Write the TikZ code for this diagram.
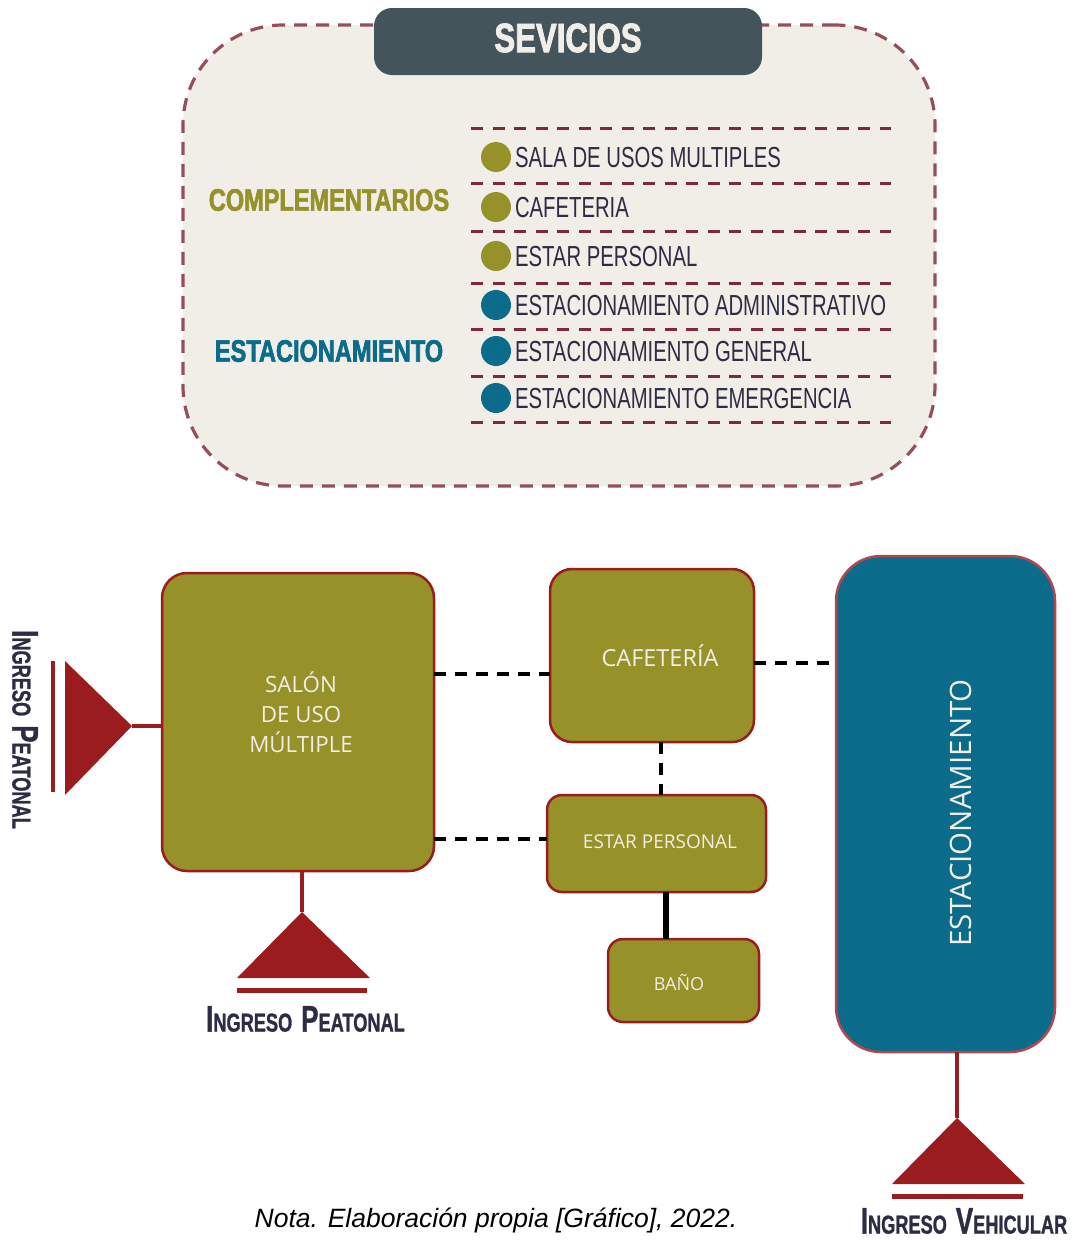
\documentclass[tikz,border=0pt]{standalone}
\usepackage{fontspec}
\setmainfont{Liberation Sans}
\newfontfamily\condfont[FakeStretch=0.7]{Liberation Sans}
\newfontfamily\headfont[FakeStretch=0.76,FakeBold=2]{Liberation Sans Bold}
\newfontfamily\entryfont[FakeStretch=0.7,FakeBold=1]{Liberation Sans Bold}
\newfontfamily\bodyfont{Open Sans}
\newfontfamily\notafont{Liberation Sans}
\definecolor{olive}{HTML}{969128}
\definecolor{tealb}{HTML}{0A6B8A}
\definecolor{cream}{HTML}{F1EEE7}
\definecolor{slateh}{HTML}{43545B}
\definecolor{redd}{HTML}{9B1C1F}
\definecolor{rosee}{HTML}{B0484F}
\definecolor{dashb}{HTML}{94505A}
\definecolor{dashl}{HTML}{7E2A36}
\definecolor{inkk}{HTML}{2C2D45}
\newcommand{\sz}[1]{\fontsize{#1}{#1}\selectfont}
\newcommand{\capsA}[2]{{\sz{37}#1}{\sz{26}#2}}
\tikzset{
 x=1pt,y=-1pt,
 base/.style={inner sep=0pt,outer sep=0pt},
 room/.style={base,draw=redd,line width=2.5pt,fill=olive,text=cream,font=\bodyfont,align=center},
 itemline/.style={draw=dashl,line width=3pt,dash pattern=on 12pt off 9.5pt},
 itemtext/.style={base,anchor=west,text=inkk,font=\condfont\sz{29}},
 dotc/.style={base,circle,minimum size=30pt},
 dashlink/.style={draw=black,line width=4pt,dash pattern=on 12pt off 9pt},
 redlink/.style={draw=redd,line width=4pt},
 tri/.style={fill=redd},
 entry/.style={base,text=inkk,font=\entryfont},
 group/.style={base,font=\headfont\sz{31}},
}
\begin{document}
\begin{tikzpicture}
\useasboundingbox (0,0) rectangle (1079,1240);
% panel
\node[base,minimum width=752pt,minimum height=461pt,rounded corners=100pt,fill=cream,draw=dashb,line width=3.2pt,dash pattern=on 13pt off 9pt] (panel) at (559,255.5) {};
\node[base,minimum width=388pt,minimum height=67pt,rounded corners=18pt,fill=slateh] (head) at (568,41.5) {};
\node[base,text=cream,font=\headfont\sz{41}] (headtxt) at (568,38) {SEVICIOS};
\node[group,text=olive] (comp) at (329,200) {COMPLEMENTARIOS};
\node[group,text=tealb] (estgroup) at (329,351) {ESTACIONAMIENTO};
% rows
\foreach \n/\y in {a/128,b/183,c/231,d/283,e/329,f/376,g/422}{
 \coordinate (l\n) at (471,\y);
 \coordinate (r\n) at (891,\y);
 \draw[itemline] (l\n) -- (r\n);
}
\foreach \n/\y/\c/\t in {
 1/157/olive/SALA DE USOS MULTIPLES,
 2/207/olive/CAFETERIA,
 3/256/olive/ESTAR PERSONAL,
 4/305/tealb/ESTACIONAMIENTO ADMINISTRATIVO,
 5/351/tealb/ESTACIONAMIENTO GENERAL,
 6/398/tealb/ESTACIONAMIENTO EMERGENCIA}{
 \node[dotc,fill=\c] (dot\n) at (496,\y) {};
 \node[itemtext] (item\n) at (515,\y+1) {\t};
}
% rooms
\node[room,minimum width=272pt,minimum height=298pt,rounded corners=25pt] (salon) at (298,722) {};
\node[base,text=cream,font=\bodyfont\sz{22.3},align=center] (salontxt) at (301,712) {SALÓN\\[7.7pt]DE USO\\[7.7pt]MÚLTIPLE};
\node[room,minimum width=204pt,minimum height=173pt,rounded corners=22pt] (cafe) at (652,655.5) {};
\node[base,text=cream,font=\bodyfont\sz{23.5}] (cafetxt) at (660,656) {CAFETERÍA};
\node[room,minimum width=219pt,minimum height=97pt,rounded corners=15pt] (estar) at (656.5,843.5) {};
\node[base,text=cream,font=\bodyfont\sz{19}] (estartxt) at (660,842) {ESTAR PERSONAL};
\node[room,minimum width=151pt,minimum height=83pt,rounded corners=15pt] (bano) at (683.5,980.5) {};
\node[base,text=cream,font=\bodyfont\sz{18}] (banotxt) at (679,982) {BAÑO};
\node[room,draw=rosee,fill=tealb,minimum width=219pt,minimum height=496pt,rounded corners=45pt] (park) at (945.5,804) {};
\node[base,text=cream,font=\bodyfont\sz{29.5},rotate=90] (parktxt) at (961,813) {ESTACIONAMIENTO};
% connectors
\coordinate (ya) at (0,674);
\coordinate (yb) at (0,663);
\coordinate (yc) at (0,839);
\coordinate (xa) at (661,0);
\coordinate (xb) at (666,0);
\draw[dashlink] (salon.east |- ya) -- (cafe.west |- ya);
\draw[dashlink] (cafe.east |- yb) -- (park.west |- yb);
\draw[dashlink] (salon.east |- yc) -- (estar.west |- yc);
\draw[dashlink] (cafe.south -| xa) -- (estar.north -| xa);
\draw[draw=black,line width=6pt] (estar.south -| xb) -- (bano.north -| xb);
% entrances
\coordinate (tipl) at (132,726);
\coordinate (tipb) at (302,912);
\coordinate (tipr) at (957,1118);
\draw[redlink] (tipl) -- (salon.west |- tipl);
\draw[redlink] (tipb) -- (salon.south -| tipb);
\draw[redlink] (tipr) -- (park.south -| tipr);
\fill[tri] (tipl) -- (65,661) -- (65,795) -- cycle;
\fill[tri] (tipb) -- (237,978) -- (370,978) -- cycle;
\fill[tri] (tipr) -- (892,1184) -- (1025,1184) -- cycle;
\fill[redd] (50.5,661) rectangle (55,792);
\fill[redd] (237,988) rectangle (367,992.5);
\fill[redd] (892,1194) rectangle (1023,1198.5);
\node[entry,rotate=-90] (ing1) at (25,729.5) {\capsA{I}{NGRESO}\hspace{9pt}\capsA{P}{EATONAL}};
\node[entry] (ing2) at (305.5,1019) {\capsA{I}{NGRESO}\hspace{9pt}\capsA{P}{EATONAL}};
\node[entry] (ing3) at (964,1221) {\capsA{I}{NGRESO}\hspace{9pt}\capsA{V}{EHICULAR}};
\node[base,font=\notafont\itshape\sz{26.5}] (nota) at (496,1220) {Nota. Elaboración propia [Gráfico], 2022.};
\end{tikzpicture}
\end{document}
